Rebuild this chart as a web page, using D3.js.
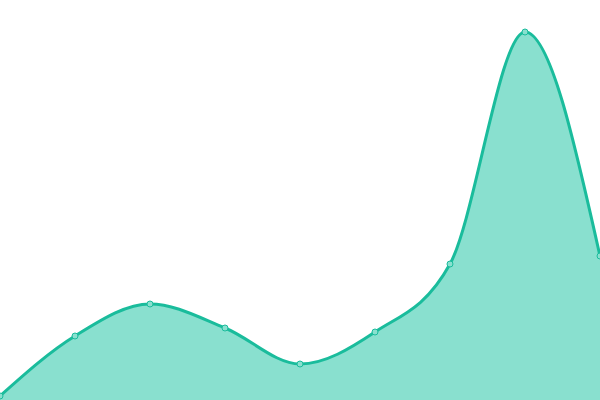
<!DOCTYPE html>
<html>
<head>
<meta charset="utf-8">
<script src="https://cdn.jsdelivr.net/npm/d3@7"></script>
<style>
  html, body { margin: 0; padding: 0; background: #fff; }
  svg { display: block; }
</style>
</head>
<body>
<svg id="chart" width="600" height="400"></svg>
<script>
// one value per point, left to right
let labels = ['1', '2', '3', '4', '5', '6', '7', '8', '9'];
let values = [4, 64, 96, 72, 36, 68, 136, 368, 144];

let width  = 600;
let height = 400;

let svg = d3.select('#chart');

let x = d3.scalePoint()
    .domain(labels)
    .range([0, width]);

let y = d3.scaleLinear()
    .domain([0, 400])
    .range([height, 0]);

let points = labels.map((l, i) => ({ label: l, value: values[i] }));

let area = d3.area()
    .x(d => x(d.label))
    .y0(height)
    .y1(d => y(d.value))
    .curve(d3.curveMonotoneX);

let line = d3.line()
    .x(d => x(d.label))
    .y(d => y(d.value))
    .curve(d3.curveMonotoneX);

svg.append('path')
    .datum(points)
    .attr('d', area)
    .attr('fill', '#89e0cf');

svg.append('path')
    .datum(points)
    .attr('d', line)
    .attr('fill', 'none')
    .attr('stroke', '#1abc9c')
    .attr('stroke-width', 3);

svg.selectAll('circle')
    .data(points)
    .enter()
    .append('circle')
    .attr('cx', d => x(d.label))
    .attr('cy', d => y(d.value))
    .attr('r', 3)
    .attr('fill', '#89e0cf')
    .attr('stroke', '#1abc9c')
    .attr('stroke-width', 1);
</script>
</body>
</html>
